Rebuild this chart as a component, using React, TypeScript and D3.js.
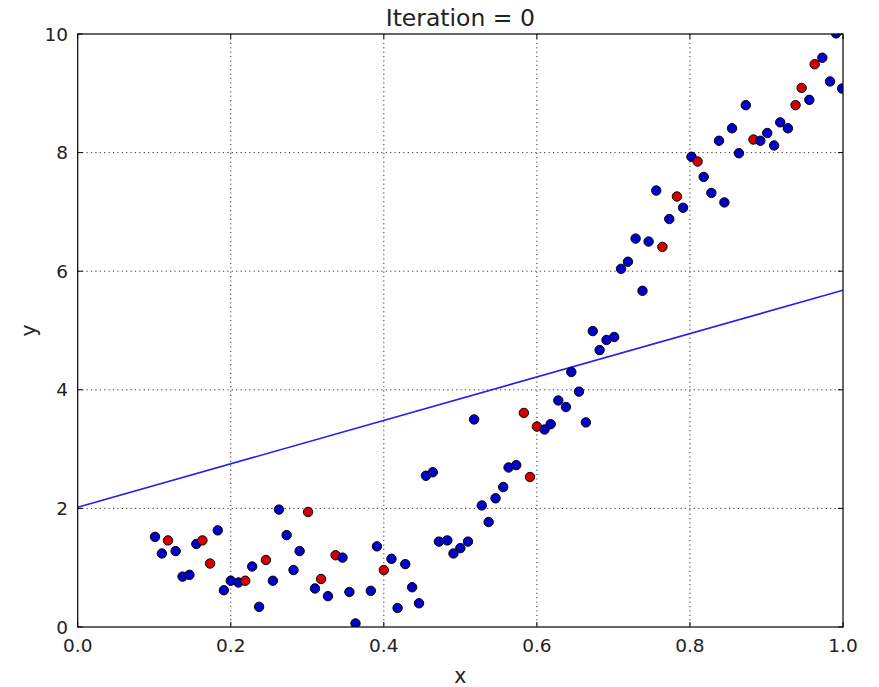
import React from "react";
import * as d3 from "d3";

const titleText = "Iteration = 0";
const xTicks = [0, 0.2, 0.4, 0.6, 0.8, 1.0];
const yTicks = [0, 2, 4, 6, 8, 10];

// 0 = blue (unlabelled), 1 = red (sampled)
const xData = [0.101, 0.110, 0.118, 0.128, 0.137, 0.146, 0.155, 0.163, 0.173, 0.183, 0.191, 0.200, 0.210, 0.219, 0.228, 0.237, 0.246, 0.255, 0.263, 0.273, 0.282, 0.290, 0.301, 0.310, 0.318, 0.327, 0.337, 0.346, 0.355, 0.363, 0.383, 0.391, 0.400, 0.410, 0.418, 0.428, 0.437, 0.446, 0.455, 0.464, 0.472, 0.483, 0.491, 0.500, 0.510, 0.518, 0.528, 0.537, 0.546, 0.556, 0.563, 0.573, 0.583, 0.591, 0.600, 0.610, 0.618, 0.628, 0.638, 0.645, 0.655, 0.664, 0.673, 0.682, 0.691, 0.701, 0.710, 0.719, 0.729, 0.738, 0.746, 0.756, 0.764, 0.773, 0.783, 0.791, 0.802, 0.810, 0.818, 0.828, 0.838, 0.845, 0.855, 0.864, 0.873, 0.883, 0.892, 0.901, 0.910, 0.918, 0.928, 0.938, 0.946, 0.956, 0.963, 0.973, 0.983, 0.991, 0.999];
const yData = [1.52, 1.24, 1.46, 1.28, 0.85, 0.88, 1.40, 1.46, 1.07, 1.63, 0.62, 0.78, 0.75, 0.78, 1.02, 0.34, 1.13, 0.78, 1.98, 1.55, 0.96, 1.28, 1.94, 0.65, 0.81, 0.52, 1.21, 1.17, 0.59, 0.06, 0.61, 1.36, 0.96, 1.15, 0.32, 1.06, 0.67, 0.40, 2.55, 2.61, 1.44, 1.46, 1.24, 1.33, 1.44, 3.50, 2.05, 1.77, 2.17, 2.36, 2.69, 2.73, 3.61, 2.53, 3.38, 3.33, 3.42, 3.82, 3.71, 4.30, 3.97, 3.45, 4.99, 4.67, 4.84, 4.89, 6.04, 6.16, 6.55, 5.67, 6.50, 7.36, 6.41, 6.88, 7.26, 7.07, 7.93, 7.85, 7.59, 7.32, 8.20, 7.16, 8.41, 7.99, 8.80, 8.22, 8.20, 8.33, 8.12, 8.51, 8.41, 8.80, 9.09, 8.89, 9.49, 9.60, 9.20, 10.01, 9.08];
const sampled = [0, 0, 1, 0, 0, 0, 0, 1, 1, 0, 0, 0, 0, 1, 0, 0, 1, 0, 0, 0, 0, 0, 1, 0, 1, 0, 1, 0, 0, 0, 0, 0, 1, 0, 0, 0, 0, 0, 0, 0, 0, 0, 0, 0, 0, 0, 0, 0, 0, 0, 0, 0, 1, 1, 1, 0, 0, 0, 0, 0, 0, 0, 0, 0, 0, 0, 0, 0, 0, 0, 0, 0, 1, 0, 1, 0, 0, 1, 0, 0, 0, 0, 0, 0, 0, 1, 0, 0, 0, 0, 0, 1, 1, 0, 1, 0, 0, 0, 0];

const fitX = [0, 1];
const fitY = [2.02, 5.68];

const W = 879;
const H = 687;
const M = { left: 77.7, right: 843, top: 34, bottom: 627 };
const FONT = "'DejaVu Sans', sans-serif";

export default function App() {
  const x = d3.scaleLinear().domain([0, 1]).range([M.left, M.right]);
  const y = d3.scaleLinear().domain([0, 10]).range([M.bottom, M.top]);
  const line = d3
    .line<number>()
    .x((_, i) => x(fitX[i]))
    .y((d) => y(d));
  const tickLen = 5;

  return (
    <svg
      width={W}
      height={H}
      style={{ position: "absolute", left: 0, top: 0, background: "#fff" }}
      fontFamily={FONT}
    >
      <defs>
        <clipPath id="plotclip">
          <rect x={M.left} y={M.top} width={M.right - M.left} height={M.bottom - M.top} />
        </clipPath>
      </defs>
      <rect x={0} y={0} width={W} height={H} fill="#fff" />
      {/* grid */}
      <g stroke="#000" strokeWidth={0.8} strokeDasharray="1.2,3.2">
        {xTicks.slice(1, -1).map((t) => (
          <line key={"gx" + t} x1={x(t)} x2={x(t)} y1={M.top} y2={M.bottom} />
        ))}
        {yTicks.slice(1, -1).map((t) => (
          <line key={"gy" + t} x1={M.left} x2={M.right} y1={y(t)} y2={y(t)} />
        ))}
      </g>
      {/* fit line */}
      <g clipPath="url(#plotclip)">
        <path d={line(fitY) || ""} fill="none" stroke="#2020f0" strokeWidth={1.6} />
        {xData.map((xv, i) => (
          <circle
            key={"p" + i}
            cx={x(xv)}
            cy={y(yData[i])}
            r={4.7}
            fill={sampled[i] ? "#d40000" : "#0000c8"}
            stroke="#000"
            strokeWidth={1}
          />
        ))}
      </g>
      {/* ticks */}
      <g stroke="#000" strokeWidth={1}>
        {xTicks.map((t) => (
          <g key={"tx" + t}>
            <line x1={x(t)} x2={x(t)} y1={M.bottom} y2={M.bottom - tickLen} />
            <line x1={x(t)} x2={x(t)} y1={M.top} y2={M.top + tickLen} />
          </g>
        ))}
        {yTicks.map((t) => (
          <g key={"ty" + t}>
            <line x1={M.left} x2={M.left + tickLen} y1={y(t)} y2={y(t)} />
            <line x1={M.right} x2={M.right - tickLen} y1={y(t)} y2={y(t)} />
          </g>
        ))}
      </g>
      {/* frame */}
      <rect
        x={M.left}
        y={M.top}
        width={M.right - M.left}
        height={M.bottom - M.top}
        fill="none"
        stroke="#000"
        strokeWidth={1.2}
      />
      {/* tick labels */}
      <g fontSize={18.5} fill="#222">
        {xTicks.map((t) => (
          <text key={"lx" + t} x={x(t)} y={652} textAnchor="middle">
            {d3.format(".1f")(t)}
          </text>
        ))}
        {yTicks.map((t) => (
          <text key={"ly" + t} x={68} y={y(t) + 6.5} textAnchor="end">
            {String(t)}
          </text>
        ))}
      </g>
      <text x={(M.left + M.right) / 2} y={26} fontSize={23.5} textAnchor="middle" fill="#222">
        {titleText}
      </text>
      <text x={(M.left + M.right) / 2} y={683} fontSize={20.5} textAnchor="middle" fill="#222">
        x
      </text>
      <text
        transform={`translate(36, ${(M.top + M.bottom) / 2}) rotate(-90)`}
        fontSize={20.5}
        textAnchor="middle"
        fill="#222"
      >
        y
      </text>
    </svg>
  );
}
